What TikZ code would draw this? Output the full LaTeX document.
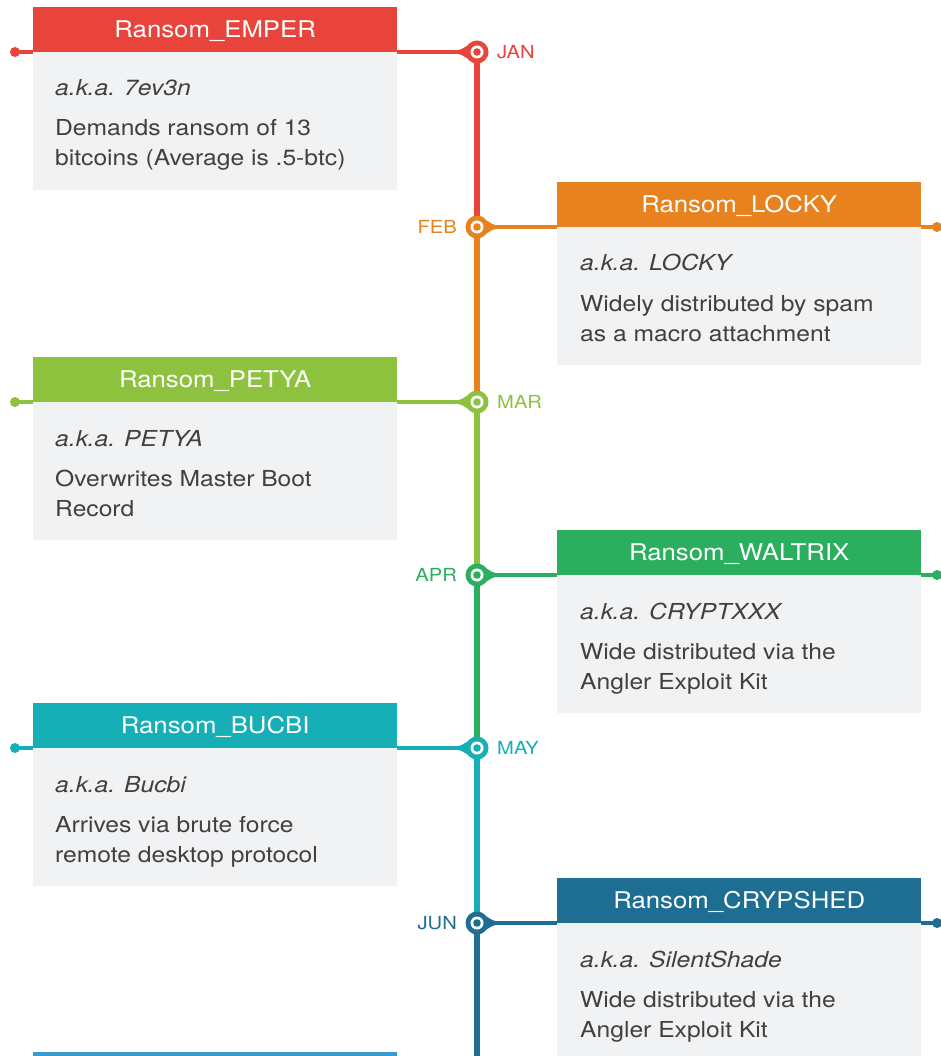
\documentclass[tikz,border=0pt]{standalone}
\usepackage{fontspec}
\setmainfont{TeX Gyre Heros}[FakeStretch=1.12]
\pgfdeclarelayer{bg}
\pgfdeclarelayer{fg}
\pgfsetlayers{bg,main,fg}
\definecolor{cred}{HTML}{E9443B}
\definecolor{corange}{HTML}{E8821E}
\definecolor{clime}{HTML}{8DC23F}
\definecolor{cgreen}{HTML}{2BAF5F}
\definecolor{cteal}{HTML}{16AFB7}
\definecolor{cblue}{HTML}{1E6D92}
\definecolor{clblue}{HTML}{3D9AD1}
\definecolor{bodygray}{HTML}{F1F2F4}
\definecolor{txt}{HTML}{404040}
\tikzset{
  header/.style={fill=#1, text=white, minimum width=364pt, minimum height=45pt, inner sep=0pt,
    text height=16.5pt, text depth=0pt, font=\fontsize{23}{27}\selectfont},
  bodytext/.style={text=txt, inner sep=0pt, font=\fontsize{22}{26}\selectfont},
  monthtext/.style={text=#1, inner sep=0pt, font=\fontsize{18}{22}\selectfont},
  dotn/.style={circle, fill=#1, minimum size=10pt, inner sep=0pt},
  marker/.style={circle, fill=#1, minimum size=23pt, inner sep=0pt,
    path picture={\fill[white] (path picture bounding box.center) circle (6.5pt);
      \fill[#1] (path picture bounding box.center) circle (3.8pt);}},
  hline/.style={draw=#1, line width=3.5pt},
  vline/.style={draw=#1, line width=5.5pt},
}
% #1 id, #2 L, #3 colour, #4 title, #5 aka, #6 line1, #7 line2, #8 month
\newcommand\rsleft[8]{%
  \fill[bodygray] (33,#2) rectangle (397,{#2+138});
  \node[header=#3, anchor=south west] (h#1) at (33,#2) {#4};
  \node[bodytext, anchor=base west] (a#1) at (55,{#2+44}) {\itshape a.k.a. #5};
  \node[bodytext, anchor=base west] (p#1) at (55,{#2+84}) {#6};
  \node[bodytext, anchor=base west] (q#1) at (55,{#2+114}) {#7};
  \node[dotn=#3] (d#1) at (15,#2) {};
  \begin{pgfonlayer}{fg}
    \fill[#3] (477,{#2-10}) to[out=180,in=0] (456,{#2-1.75})
      -- (456,{#2+1.75}) to[out=0,in=180] (477,{#2+10}) -- cycle;
    \node[marker=#3] (m#1) at (477,#2) {};
  \end{pgfonlayer}
  \node[monthtext=#3, anchor=base west] (t#1) at (497,{#2+6.5}) {#8};
  \begin{pgfonlayer}{bg}
    \draw[hline=#3] (d#1.center) -- (m#1.center);
  \end{pgfonlayer}
}
\newcommand\rsright[8]{%
  \fill[bodygray] (557,#2) rectangle (921,{#2+138});
  \node[header=#3, anchor=south west] (h#1) at (557,#2) {#4};
  \node[bodytext, anchor=base west] (a#1) at (580,{#2+44}) {\itshape a.k.a. #5};
  \node[bodytext, anchor=base west] (p#1) at (580,{#2+84}) {#6};
  \node[bodytext, anchor=base west] (q#1) at (580,{#2+114}) {#7};
  \node[dotn=#3] (d#1) at (937,#2) {};
  \begin{pgfonlayer}{fg}
    \fill[#3] (477,{#2-10}) to[out=0,in=180] (498,{#2-1.75})
      -- (498,{#2+1.75}) to[out=180,in=0] (477,{#2+10}) -- cycle;
    \node[marker=#3] (m#1) at (477,#2) {};
  \end{pgfonlayer}
  \node[monthtext=#3, anchor=base east] (t#1) at (457,{#2+6.5}) {#8};
  \begin{pgfonlayer}{bg}
    \draw[hline=#3] (d#1.center) -- (m#1.center);
  \end{pgfonlayer}
}
\begin{document}
\begin{tikzpicture}[x=1pt,y=-1pt]
\useasboundingbox (0,0) rectangle (941,1056);
\clip (0,0) rectangle (941,1056);
\begin{pgfonlayer}{bg}
  \fill[white] (0,0) rectangle (941,1056);
\end{pgfonlayer}
\rsleft{1}{52}{cred}{Ransom\_EMPER}{7ev3n}{Demands ransom of 13}{bitcoins (Average is .5-btc)}{JAN}
\rsright{2}{227}{corange}{Ransom\_LOCKY}{LOCKY}{Widely distributed by spam}{as a macro attachment}{FEB}
\rsleft{3}{402}{clime}{Ransom\_PETYA}{PETYA}{Overwrites Master Boot}{Record}{MAR}
\rsright{4}{575}{cgreen}{Ransom\_WALTRIX}{CRYPTXXX}{Wide distributed via the}{Angler Exploit Kit}{APR}
\rsleft{5}{748}{cteal}{Ransom\_BUCBI}{Bucbi}{Arrives via brute force}{remote desktop protocol}{MAY}
\rsright{6}{923}{cblue}{Ransom\_CRYPSHED}{SilentShade}{Wide distributed via the}{Angler Exploit Kit}{JUN}
\node[fill=clblue, minimum width=364pt, minimum height=45pt, inner sep=0pt, anchor=north west] (h7) at (33,1052) {};
\coordinate (vend) at (477,1060);
\begin{pgfonlayer}{bg}
  \draw[vline=cred] (m1.center) -- (m2.center);
  \draw[vline=corange] (m2.center) -- (m3.center);
  \draw[vline=clime] (m3.center) -- (m4.center);
  \draw[vline=cgreen] (m4.center) -- (m5.center);
  \draw[vline=cteal] (m5.center) -- (m6.center);
  \draw[vline=cblue] (m6.center) -- (vend);
\end{pgfonlayer}
\end{tikzpicture}
\end{document}
